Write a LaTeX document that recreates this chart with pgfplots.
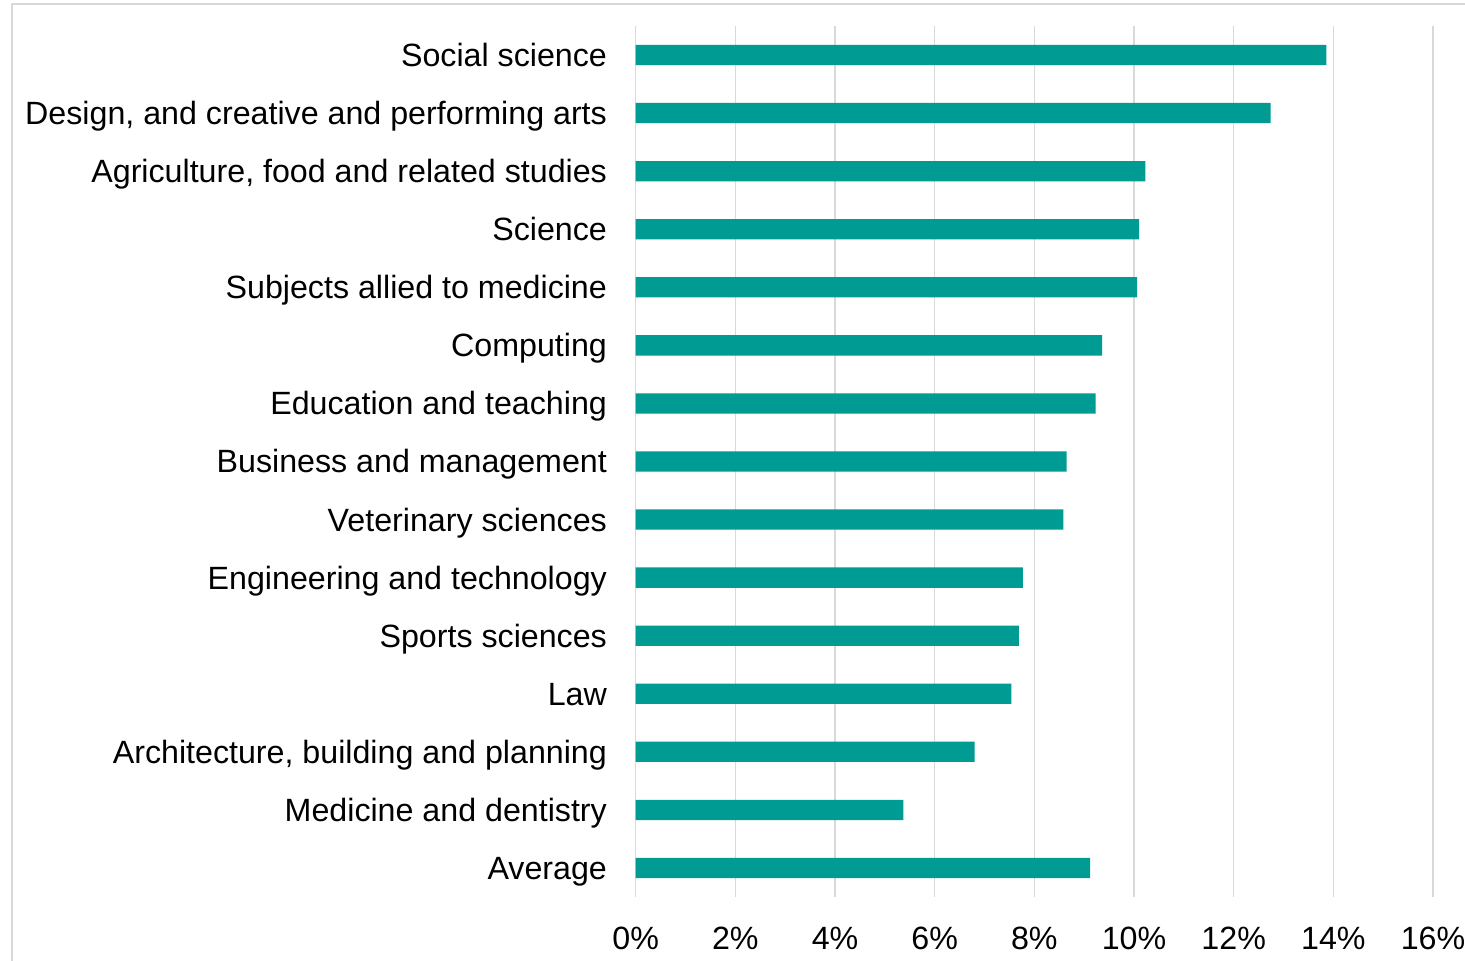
\documentclass[border=0pt]{standalone}
\usepackage{fontspec}
\setmainfont{Liberation Sans}
\usepackage{pgfplots}
\pgfplotsset{compat=1.18}
\definecolor{barteal}{HTML}{009B92}
\definecolor{gridgray}{HTML}{D9D9D9}
\begin{document}
\begin{tikzpicture}
\useasboundingbox (0,0) rectangle (732.5pt,480.5pt);
\draw[gridgray, line width=0.9pt] (6pt,0pt) -- (6pt,478.5pt) -- (740pt,478.5pt);
\begin{axis}[
  at={(317.85pt,32pt)}, anchor=south west,
  scale only axis,
  width=398.65pt, height=435.5pt,
  xbar, bar width=10.15pt,
  xmin=0, xmax=16,
  ymin=-0.5, ymax=14.5,
  y dir=reverse,
  xtick={0,2,4,6,8,10,12,14,16},
  xticklabels={0\%,2\%,4\%,6\%,8\%,10\%,12\%,14\%,16\%},
  ytick={0,1,2,3,4,5,6,7,8,9,10,11,12,13,14},
  yticklabels={Social science,{Design, and creative and performing arts},{Agriculture, food and related studies},Science,Subjects allied to medicine,Computing,Education and teaching,Business and management,Veterinary sciences,Engineering and technology,Sports sciences,Law,{Architecture, building and planning},Medicine and dentistry,Average},
  axis line style={draw=none},
  major tick length=0pt,
  xmajorgrids,
  grid style={gridgray, line width=0.75pt},
  tick label style={font=\fontsize{16.1}{19}\selectfont, inner sep=0pt, text height=11.5pt, text depth=0pt},
  xticklabel style={anchor=north, yshift=-14.3pt},
  yticklabel style={anchor=east, xshift=-14.2pt},
]
\addplot[fill=barteal, draw=none] coordinates {
(13.86,0) (12.74,1) (10.23,2) (10.10,3) (10.06,4) (9.36,5) (9.23,6) (8.65,7) (8.58,8) (7.77,9) (7.69,10) (7.54,11) (6.80,12) (5.37,13) (9.12,14)
};
\end{axis}
\end{tikzpicture}
\end{document}
